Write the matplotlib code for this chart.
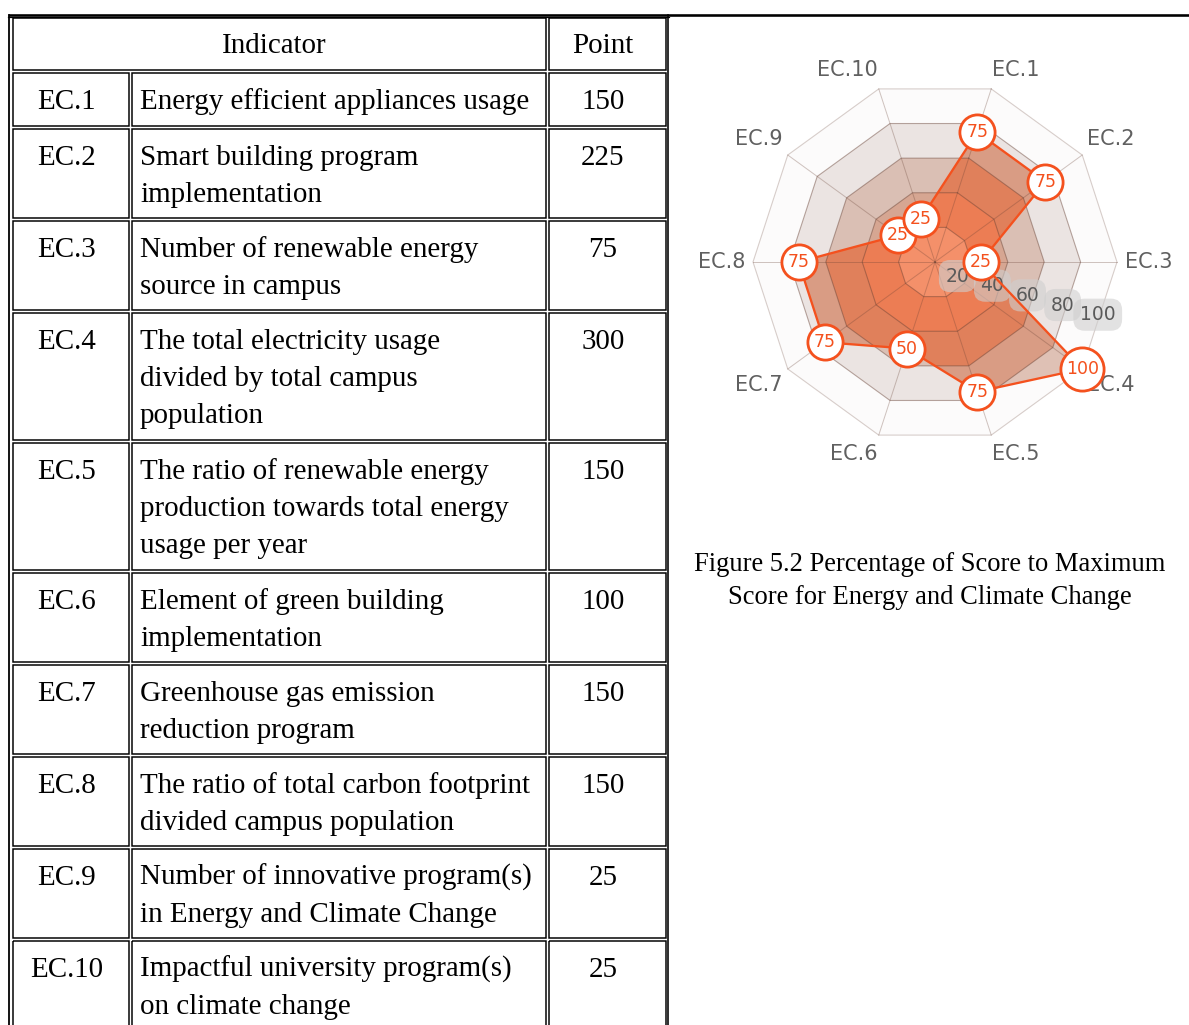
import numpy as np
import matplotlib
matplotlib.use('Agg')
import matplotlib.pyplot as plt
from matplotlib.patches import Polygon, Rectangle

# ---------------- data ----------------
header = ['Indicator', 'Point']
codes = ['EC.1', 'EC.2', 'EC.3', 'EC.4', 'EC.5', 'EC.6', 'EC.7', 'EC.8', 'EC.9', 'EC.10']
descriptions = [
    'Energy efficient appliances usage',
    'Smart building program\nimplementation',
    'Number of renewable energy\nsource in campus',
    'The total electricity usage\ndivided by total campus\npopulation',
    'The ratio of renewable energy\nproduction towards total energy\nusage per year',
    'Element of green building\nimplementation',
    'Greenhouse gas emission\nreduction program',
    'The ratio of total carbon footprint\ndivided campus population',
    'Number of innovative program(s)\nin Energy and Climate Change',
    'Impactful university program(s)\non climate change',
]
points = [150, 225, 75, 300, 150, 100, 150, 150, 25, 25]
scores = [75, 75, 25, 100, 75, 50, 75, 75, 25, 25]
ring_levels = [20, 40, 60, 80, 100]
caption_lines = ['Figure 5.2 Percentage of Score to Maximum',
                 'Score for Energy and Climate Change']

# ---------------- figure ----------------
W, H = 1189, 1025
fig = plt.figure(figsize=(W / 100, H / 100), dpi=100)
fig.patch.set_facecolor('white')

PX = 72 / 100  # points per pixel
serif = 'Liberation Serif'

tax = fig.add_axes([0, 0, 1, 1])
tax.set_xlim(0, W)
tax.set_ylim(H, 0)
tax.axis('off')

# page rules
tax.plot([8, W], [14.5, 14.5], color='black', lw=2.6 * PX, solid_capstyle='butt')
tax.plot([668, 668], [14.5, H], color='black', lw=1.6 * PX)
tax.plot([9.3, 9.3], [14.5, H], color='black', lw=1.8 * PX)
tax.plot([8, 669], [16.5, 16.5], color='black', lw=1.2 * PX)

cols = [(12.5, 128.5), (131.5, 545.5), (548.5, 665.5)]
cell_lw = 1.5 * PX
heights = {1: 53.5, 2: 89.5, 3: 127.5}
line_gap = 37
fs_table = 20.9


def cell(x0, x1, y0, y1):
    tax.add_patch(Rectangle((x0, y0), x1 - x0, y1 - y0, fill=False,
                            ec='black', lw=cell_lw))


# header row
top = 17.5
bottom = top + 52.5
cell(cols[0][0], cols[1][1], top, bottom)
cell(cols[2][0], cols[2][1], top, bottom)
tax.text((cols[0][0] + cols[1][1]) / 2 - 5, top + 35.5, header[0], ha='center',
         va='baseline', fontsize=fs_table, family=serif)
tax.text((cols[2][0] + cols[2][1]) / 2 - 4, top + 35.5, header[1], ha='center',
         va='baseline', fontsize=fs_table, family=serif)

top = bottom + 2.5
for code, desc, pt in zip(codes, descriptions, points):
    lines = desc.split('\n')
    h = heights[len(lines)]
    bottom = top + h
    for (x0, x1) in cols:
        cell(x0, x1, top, min(bottom, H + 20))
    base = top + 36.5
    tax.text(66.5, base, code, ha='center', va='baseline', fontsize=fs_table, family=serif)
    for k, ln in enumerate(lines):
        tax.text(140, base + k * line_gap, ln, ha='left', va='baseline',
                 fontsize=fs_table, family=serif)
    tax.text(603, base, str(pt), ha='center', va='baseline', fontsize=fs_table, family=serif)
    top = bottom + 2.5

# caption
for k, ln in enumerate(caption_lines):
    tax.text(930, 571 + k * 33, ln, ha='center', va='baseline', fontsize=19.1,
             family=serif)

# ---------------- radar ----------------
cx, cy = 935, 262
R_px = 182.0
upx = 100 / R_px          # data units per pixel
lim = 130
half = lim / upx
rax = fig.add_axes([(cx - half) / W, 1 - (cy + half) / H, 2 * half / W, 2 * half / H])
rax.set_xlim(-lim, lim)
rax.set_ylim(-lim, lim)
rax.axis('off')

n = len(scores)
theta = np.deg2rad(18 + 36 * np.arange(n))
sx, cxs = np.sin(theta), np.cos(theta)


def ring(r):
    r = np.broadcast_to(np.asarray(r, float), (n,))
    return np.column_stack([r * sx, r * cxs])


outside_cols = ['#d0937c', '#d6a692', '#dabfb4', '#ebe4e2', '#fcfbfb']
inside_cols = ['#f4906a', '#ec7d54', '#e0805b', '#d99c84', '#dfc1b5']

data_xy = ring(scores)
clip = Polygon(data_xy, closed=True, transform=rax.transData)

for i in range(len(ring_levels) - 1, -1, -1):
    r = ring_levels[i]
    rax.add_patch(Polygon(ring(r), closed=True, fc=outside_cols[i], ec='none', zorder=1))
for i in range(len(ring_levels) - 1, -1, -1):
    r = ring_levels[i]
    p = Polygon(ring(r), closed=True, fc=inside_cols[i], ec='none', zorder=2)
    rax.add_patch(p)
    p.set_clip_path(clip)

grid_c = (0.40, 0.25, 0.20)
for r in ring_levels:
    pts = ring(r)
    pts = np.vstack([pts, pts[:1]])
    a = 0.25 if r == ring_levels[-1] else 0.45
    rax.plot(pts[:, 0], pts[:, 1], color=grid_c, alpha=a, lw=1.1 * PX, zorder=3)
outer = ring(ring_levels[-1])
for (x, y) in outer:
    rax.plot([0, x], [0, y], color=grid_c, alpha=0.3, lw=1.0 * PX, zorder=3)

# radial tick labels
tick_ang = np.deg2rad(105.4)
for r in ring_levels:
    tx = r * np.sin(tick_ang) - 7.0
    ty = r * np.cos(tick_ang) - 2.4
    rax.text(tx, ty, str(r), ha='center', va='center', fontsize=13.5, color='#5a5a5a',
             zorder=4, bbox=dict(boxstyle='round,pad=0.35,rounding_size=0.6', fc='#cfcfcf',
                                 ec='none', alpha=0.6))

# data line
closed = np.vstack([data_xy, data_xy[:1]])
orange = '#f4511e'
rax.plot(closed[:, 0], closed[:, 1], color=orange, lw=2.3 * PX, zorder=5)

# markers
for i, (v, (x, y)) in enumerate(zip(scores, data_xy)):
    diam = (46 if len(str(v)) > 2 else 38) * PX
    lw = 2.8 * PX
    rax.scatter([x], [y], s=(diam - lw) ** 2, facecolor='white', edgecolor=orange,
                linewidths=lw, zorder=6 + 2 * i)
    rax.text(x, y, str(v), ha='center', va='center', fontsize=12.5, color=orange,
             zorder=7 + 2 * i)

# axis labels
for code, s, c, (x, y) in zip(codes, sx, cxs, outer):
    if s > 0.01:
        ha = 'left'
    elif s < -0.01:
        ha = 'right'
    else:
        ha = 'center'
    dx = 4.4 * np.sign(s) * s ** 2
    dy = 10.6 * np.sign(c) * abs(c) ** 0.4
    rax.text(x + dx, y + dy, code, ha=ha, va='center', fontsize=15, color='#606060',
             zorder=4, clip_on=False)

fig.savefig('out.png', dpi=100, facecolor='white')
